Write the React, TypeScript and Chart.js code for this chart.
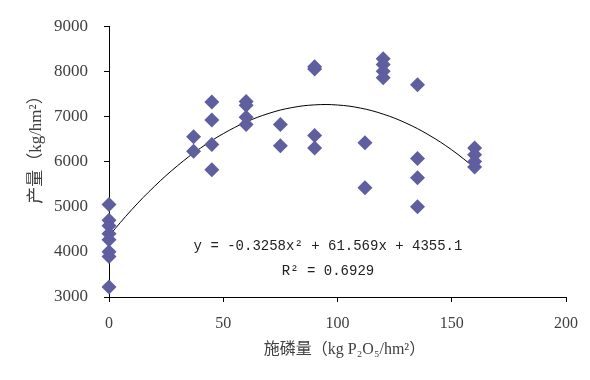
import { useEffect, useRef } from "react";
import { Chart, registerables } from "chart.js";

Chart.register(...registerables);

// Observed data (phosphorus rate, yield)
const phosphorusRates = [
  0, 0, 0, 0, 0, 0, 0, 0,
  37, 37,
  45, 45, 45, 45,
  60, 60, 60, 60,
  75, 75,
  90, 90, 90, 90,
  112, 112,
  120, 120, 120, 120,
  135, 135, 135, 135,
  160, 160, 160, 160,
];
const yields = [
  5050, 4700, 4580, 4400, 4270, 4000, 3900, 3220,
  6550, 6230,
  7320, 6920, 6380, 5820,
  7330, 7250, 6980, 6820,
  6820, 6350,
  8100, 8050, 6580, 6300,
  6420, 5420,
  8280, 8150, 8000, 7860,
  7700, 6070, 5640, 5000,
  6300, 6150, 6000, 5880,
];

// Trendline (polynomial fit curve)
const trendX = [0, 10, 20, 30, 40, 50, 60, 70, 80, 90, 100, 110, 120, 130, 140, 150, 160];
const trendY = [4355, 4938, 5456, 5909, 6297, 6619, 6876, 7069, 7196, 7257, 7254, 7186, 7052, 6853, 6589, 6260, 5866];

const xTicks = [0, 50, 100, 150, 200];
const yTicks = [3000, 4000, 5000, 6000, 7000, 8000, 9000];

const xTitle = "施磷量（kg P₂O₅/hm²）";
const yTitle = "产量（kg/hm²）";
const equationText = "y = -0.3258x² + 61.569x + 4355.1";
const r2Text = "R² = 0.6929";

const SERIF = "'Liberation Serif', 'Noto Sans CJK SC', serif";
const MONO = "'Liberation Mono', 'DejaVu Sans Mono', monospace";

const textPlugin = {
  id: "customTexts",
  afterDraw(chart: any) {
    const { ctx, chartArea } = chart;
    ctx.save();
    ctx.fillStyle = "#404040";
    ctx.textAlign = "center";
    ctx.textBaseline = "middle";
    // x axis title
    ctx.font = `16px ${SERIF}`;
    ctx.fillText(xTitle, (chartArea.left + chartArea.right) / 2 + 7, chartArea.bottom + 53);
    // y axis title
    ctx.save();
    ctx.font = `17px ${SERIF}`;
    ctx.translate(chartArea.left - 72, (chartArea.top + chartArea.bottom) / 2 - 16);
    ctx.rotate(-Math.PI / 2);
    ctx.fillText(yTitle, 0, 0);
    ctx.restore();
    // equation
    ctx.fillStyle = "#222";
    ctx.font = `14px ${MONO}`;
    ctx.fillText(equationText, chartArea.left + 219, chartArea.top + 220);
    ctx.fillText(r2Text, chartArea.left + 219, chartArea.top + 245);
    ctx.restore();
  },
};

export default function App() {
  const canvasRef = useRef<HTMLCanvasElement | null>(null);

  useEffect(() => {
    if (!canvasRef.current) return;
    const points = phosphorusRates.map((x, i) => ({ x, y: yields[i] }));
    const trend = trendX.map((x, i) => ({ x, y: trendY[i] }));
    const chart = new Chart(canvasRef.current, {
      type: "scatter",
      data: {
        datasets: [
          {
            label: "trend",
            data: trend,
            showLine: true,
            borderColor: "#000",
            borderWidth: 1,
            pointRadius: 0,
            tension: 0.4,
            fill: false,
            order: 2,
          },
          {
            label: "yield",
            data: points,
            pointStyle: "rectRot",
            pointRadius: 7.5,
            backgroundColor: "#5f5f9f",
            borderColor: "#5f5f9f",
            borderWidth: 0,
            clip: false,
            order: 1,
          },
        ],
      },
      options: {
        animation: false,
        responsive: false,
        maintainAspectRatio: false,
        layout: { padding: { left: 0, right: 21, top: 25, bottom: 0 } },
        plugins: {
          legend: { display: false },
          tooltip: { enabled: false },
        },
        scales: {
          x: {
            type: "linear",
            min: 0,
            max: 200,
            afterBuildTicks: (scale: any) => {
              scale.ticks = xTicks.map((v) => ({ value: v }));
            },
            afterFit: (scale: any) => {
              scale.height = 83;
            },
            grid: {
              drawOnChartArea: false,
              drawTicks: true,
              tickLength: 5,
              color: "#000",
            },
            border: { display: true, color: "#000", width: 1 },
            ticks: {
              font: { family: SERIF, size: 16 },
              color: "#404040",
              padding: 12,
              maxRotation: 0,
              callback: (v: any) => String(v),
            },
          },
          y: {
            type: "linear",
            min: 3000,
            max: 9000,
            afterBuildTicks: (scale: any) => {
              scale.ticks = yTicks.map((v) => ({ value: v }));
            },
            afterFit: (scale: any) => {
              scale.width = 109;
            },
            grid: {
              drawOnChartArea: false,
              drawTicks: true,
              tickLength: 5,
              color: "#000",
            },
            border: { display: true, color: "#000", width: 1 },
            ticks: {
              font: { family: SERIF, size: 17 },
              color: "#404040",
              padding: 16,
              callback: (v: any) => String(v),
            },
          },
        },
      },
      plugins: [textPlugin],
    });
    return () => chart.destroy();
  }, []);

  return (
    <div style={{ position: "fixed", left: 0, top: 0, width: 590, height: 380, background: "#fff" }}>
      <canvas ref={canvasRef} width={590} height={380} style={{ width: 590, height: 380 }} />
    </div>
  );
}
